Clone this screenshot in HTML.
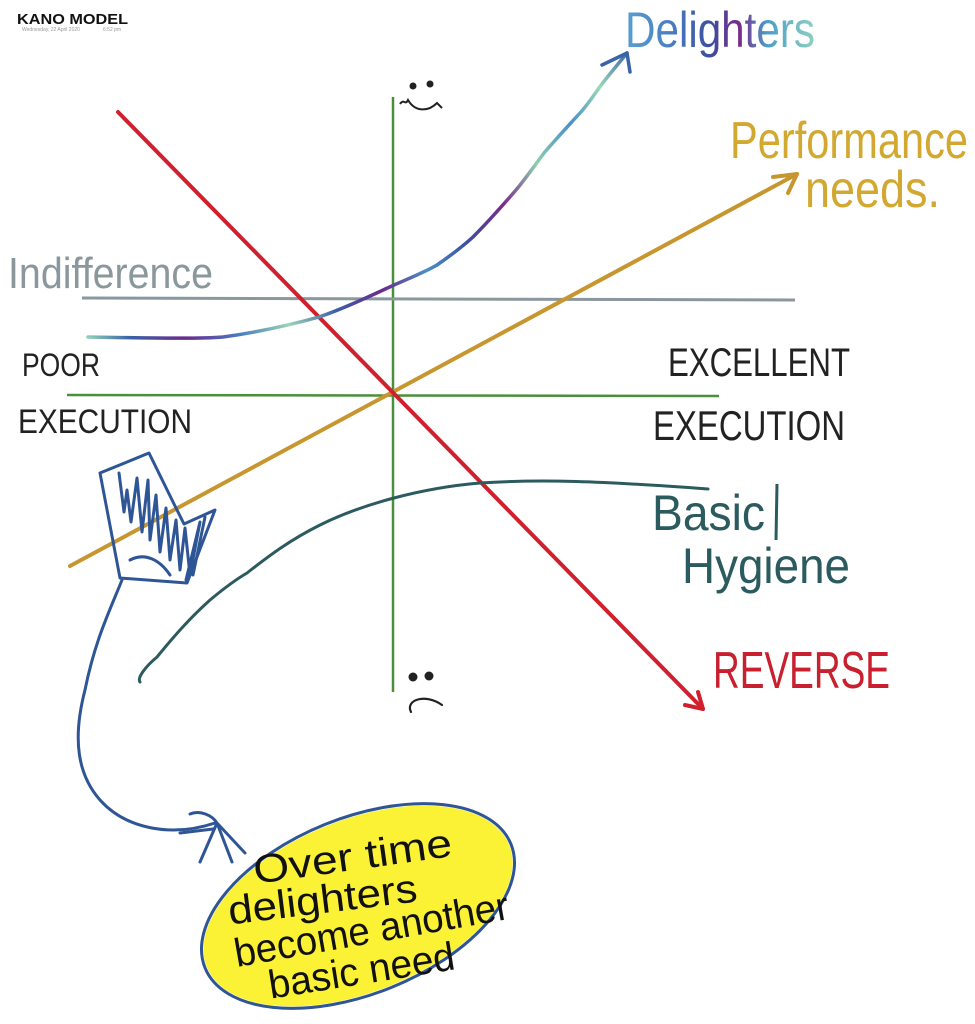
<!DOCTYPE html>
<html><head><meta charset="utf-8"><style>
html,body{margin:0;padding:0;background:#fff;}
svg{display:block;}
text{font-family:"Liberation Sans",sans-serif;}
</style></head><body>
<svg width="975" height="1024" viewBox="0 0 975 1024" xmlns="http://www.w3.org/2000/svg">
<defs>
<linearGradient id="dg" gradientUnits="userSpaceOnUse" x1="88" y1="337" x2="630" y2="52">
<stop offset="0" stop-color="#8fd0b8"/><stop offset="0.06" stop-color="#3a63a8"/><stop offset="0.14" stop-color="#6a2a8e"/><stop offset="0.22" stop-color="#4a7cc0"/><stop offset="0.3" stop-color="#9ad4b8"/><stop offset="0.38" stop-color="#3d5ea6"/><stop offset="0.46" stop-color="#6a2a8e"/><stop offset="0.54" stop-color="#4a8fc8"/><stop offset="0.62" stop-color="#3b4f9e"/><stop offset="0.7" stop-color="#7a2a8a"/><stop offset="0.78" stop-color="#8ccfb0"/><stop offset="0.86" stop-color="#4a8fc8"/><stop offset="0.93" stop-color="#9ad8b8"/><stop offset="1" stop-color="#3a63a8"/>
</linearGradient>
<linearGradient id="tg" gradientUnits="userSpaceOnUse" x1="625" y1="0" x2="815" y2="0">
<stop offset="0" stop-color="#5a9fd0"/><stop offset="0.25" stop-color="#4a7cc0"/><stop offset="0.45" stop-color="#3b4f9e"/><stop offset="0.6" stop-color="#7a2a8a"/><stop offset="0.75" stop-color="#4a9fc8"/><stop offset="1" stop-color="#8fd0c0"/>
</linearGradient>
</defs>

<!-- header -->
<text x="17" y="24" font-size="15" font-weight="bold" fill="#111" textLength="111" lengthAdjust="spacingAndGlyphs">KANO MODEL</text>
<text x="22" y="31" font-size="5" fill="#999">Wednesday, 22 April 2020</text>
<text x="103" y="31" font-size="5" fill="#999">6:52 pm</text>

<!-- axes -->
<line x1="393" y1="97" x2="393" y2="692" stroke="#4a8f3c" stroke-width="2.5"/>
<line x1="67" y1="395" x2="719" y2="396" stroke="#4a8f3c" stroke-width="2.5"/>

<!-- indifference -->
<line x1="82" y1="298" x2="795" y2="300" stroke="#8a979c" stroke-width="3"/>
<text x="8" y="288" font-size="44" fill="#8a979c" textLength="205" lengthAdjust="spacingAndGlyphs">Indifference</text>

<!-- performance -->
<line x1="70" y1="566" x2="797" y2="174" stroke="#c8962e" stroke-width="4" stroke-linecap="round"/>
<polyline points="773,177 797,174 788,193" fill="none" stroke="#c8962e" stroke-width="4" stroke-linecap="round" stroke-linejoin="round"/>
<text x="730" y="158" font-size="52" fill="#d2a830" textLength="238" lengthAdjust="spacingAndGlyphs">Performance</text>
<text x="805" y="207" font-size="52" fill="#d2a830" textLength="135" lengthAdjust="spacingAndGlyphs">needs.</text>

<!-- reverse -->
<line x1="118" y1="112" x2="703" y2="709" stroke="#d0202e" stroke-width="4" stroke-linecap="round"/>
<polyline points="685,705 703,709 698,692" fill="none" stroke="#d0202e" stroke-width="4" stroke-linecap="round" stroke-linejoin="round"/>
<text x="713" y="688" font-size="52" fill="#c8202e" textLength="177" lengthAdjust="spacingAndGlyphs">REVERSE</text>

<!-- delighters curve -->
<path d="M88,337 C150,338 200,339 223,337 C260,332 290,325 319,317 C345,308 370,296 394,285 C410,278 425,272 437,265 C450,256 462,247 473,237 C488,222 503,205 516,190 C526,178 535,165 544,153 C556,139 568,126 580,113 C590,102 597,90 605,80 L627,53" fill="none" stroke="url(#dg)" stroke-width="3.5" stroke-linecap="round" stroke-linejoin="round"/>
<polyline points="602,65 627,53 630,72" fill="none" stroke="#3a63a8" stroke-width="3.5" stroke-linecap="round" stroke-linejoin="round"/>
<text x="625" y="47" font-size="50" fill="url(#tg)" textLength="190" lengthAdjust="spacingAndGlyphs">Delighters</text>

<!-- basic hygiene curve -->
<path d="M140,682 C137,678 145,667 157,657 C175,635 190,618 210,600 C222,590 235,580 247,573 C270,555 290,540 320,525 C360,505 420,488 480,483 C540,479 600,481 708,489" fill="none" stroke="#2b5b5e" stroke-width="3" stroke-linecap="round"/>
<text x="652" y="530" font-size="50" fill="#2b5b5e" textLength="113" lengthAdjust="spacingAndGlyphs">Basic</text>
<line x1="777" y1="484" x2="776" y2="540" stroke="#2b5b5e" stroke-width="3"/>
<text x="682" y="583" font-size="50" fill="#2b5b5e" textLength="168" lengthAdjust="spacingAndGlyphs">Hygiene</text>

<!-- execution labels -->
<text x="22" y="376" font-size="32" fill="#222" textLength="78" lengthAdjust="spacingAndGlyphs">POOR</text>
<text x="18" y="433" font-size="34" fill="#222" textLength="174" lengthAdjust="spacingAndGlyphs">EXECUTION</text>
<text x="668" y="376" font-size="40" fill="#222" textLength="182" lengthAdjust="spacingAndGlyphs">EXCELLENT</text>
<text x="653" y="440" font-size="42" fill="#222" textLength="192" lengthAdjust="spacingAndGlyphs">EXECUTION</text>

<!-- smileys -->
<circle cx="413" cy="86" r="3.5" fill="#222"/><circle cx="430" cy="84" r="3.5" fill="#222"/>
<path d="M400,104 C404,98 405,106 408,100 C415,112 428,112 437,103 L442,108" fill="none" stroke="#222" stroke-width="2"/>
<circle cx="413" cy="677" r="4.5" fill="#222"/><circle cx="429" cy="676" r="4.5" fill="#222"/>
<path d="M411,712 C405,700 425,693 442,705" fill="none" stroke="#222" stroke-width="2.2" stroke-linecap="round"/>

<!-- hand-drawn blue arrow -->
<g fill="none" stroke="#2e5595" stroke-width="3" stroke-linecap="round" stroke-linejoin="round">
<polyline points="100,473 149,453 176,508 184,524 215,510 187,583 120,578 100,473"/>
<path d="M119,473 L124,512 L127,490 L131,522 L137,478 L142,532 L148,480 L150,540 L156,495 L160,552 L166,508 L170,560 L176,520 L180,570 L185,528 L190,575 L200,522 L186,580 M205,517 L193,575 M130,560 C145,552 160,560 170,575"/>
<path d="M122,580 C110,610 95,640 85,690 C72,740 78,775 100,800 C125,828 170,838 215,823"/>
<path d="M190,814 C200,810 212,815 217,823 L200,862 M217,823 L232,862 M217,823 L245,853 M180,833 L213,829"/>
</g>

<!-- yellow bubble -->
<g transform="rotate(-22 358 906)">
<ellipse cx="358" cy="906" rx="163" ry="86" fill="#fbf236"/>
<ellipse cx="358" cy="906" rx="165" ry="88" fill="none" stroke="#2e5595" stroke-width="3"/>
</g>
<g fill="#111" font-size="40" text-anchor="middle">
<text x="353" y="870" transform="rotate(-8 353 860)" textLength="200" lengthAdjust="spacingAndGlyphs">Over time</text>
<text x="323" y="913" transform="rotate(-7 323 903)" textLength="190" lengthAdjust="spacingAndGlyphs">delighters</text>
<text x="372" y="943" transform="rotate(-10 372 933)" textLength="278" lengthAdjust="spacingAndGlyphs">become another</text>
<text x="362" y="984" transform="rotate(-9 362 974)" textLength="188" lengthAdjust="spacingAndGlyphs">basic need</text>
</g>
</svg>
</body></html>
